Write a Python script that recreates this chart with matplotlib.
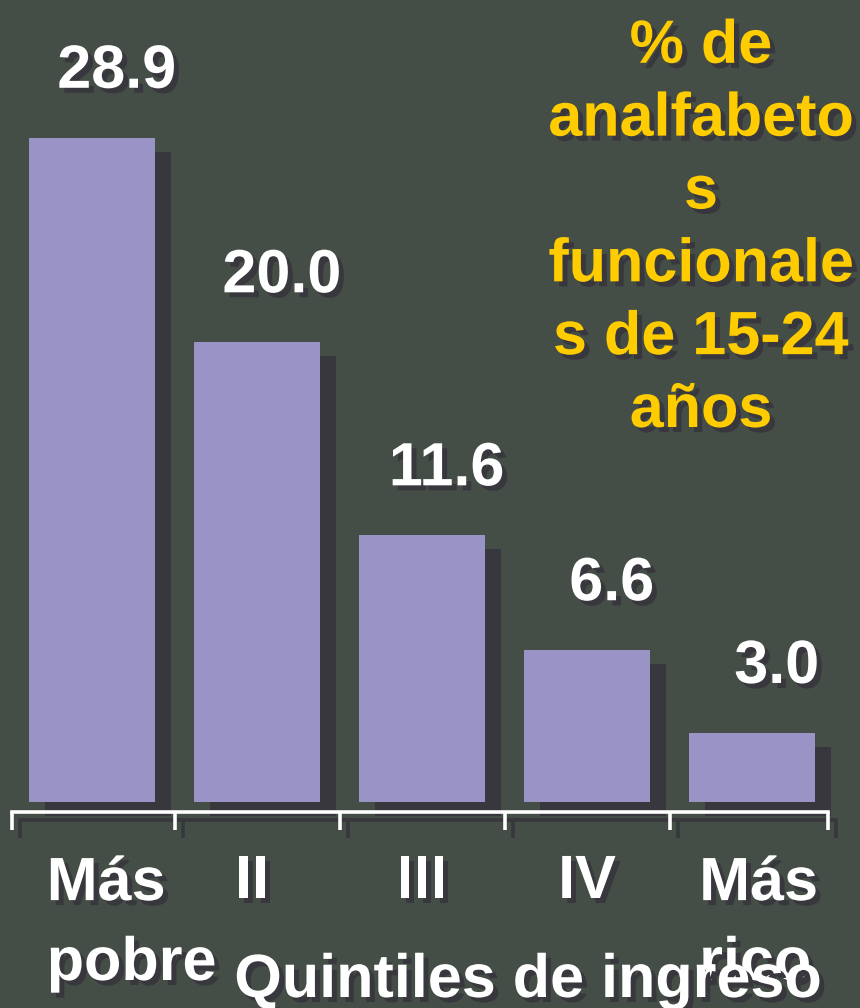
import matplotlib
matplotlib.use("Agg")
import matplotlib.pyplot as plt
import matplotlib.patheffects as pe
import matplotlib.transforms as mtransforms

# ---- data ----
categories = ["Más\npobre", "II", "III", "IV", "Más\nrico"]
values = [28.9, 20.0, 11.6, 6.6, 3.0]
value_labels = ["28.9", "20.0", "11.6", "6.6", "3.0"]
title = "% de\nanalfabeto\ns\nfuncionale\ns de 15-24\naños"
xlabel = "Quintiles de ingreso"

# ---- style ----
BG = "#454E46"
BAR = "#9A94C6"
SHADOW = "#38373D"
YELLOW = "#FFCC00"
FONT = "Liberation Sans"
FS = 44

plt.rcParams["font.family"] = [FONT, "DejaVu Sans"]

fig = plt.figure(figsize=(8.6, 10.08), dpi=100, facecolor=BG)
ax = fig.add_axes([0, 168 / 1008, 1, 840 / 1008])
ax.set_facecolor(BG)
ax.set_xlim(-0.5576, 4.6545)
ax.set_ylim(-1.654, 34.90)
ax.axis("off")

txt_shadow = [pe.withSimplePatchShadow(offset=(3.6, -3.6), shadow_rgbFace=SHADOW, alpha=1.0)]
bar_shadow = [pe.SimplePatchShadow(offset=(11.5, -10.0), shadow_rgbFace=SHADOW, alpha=1.0), pe.Normal()]
line_shadow = [pe.SimpleLineShadow(offset=(5.8, -5.8), shadow_color=SHADOW, alpha=1.0), pe.Normal()]

x = list(range(len(values)))
bars = ax.bar(x, values, width=0.758, color=BAR, zorder=2)
for b in bars:
    b.set_path_effects(bar_shadow)

# value labels
for xi, v, lab in zip(x, values, value_labels):
    ax.text(xi + 0.15, v + 2.18, lab, ha="center", va="baseline", color="white",
            fontsize=FS, fontweight="bold", path_effects=txt_shadow, zorder=5)

# bracket axis
y_line = -0.435
y_tick = -1.218
left_end, right_end = -0.485, 4.46
bounds = [left_end] + [xi + 0.5 for xi in x[:-1]] + [right_end]
ax.plot([left_end, right_end], [y_line, y_line], color="white", lw=2.6,
        solid_capstyle="projecting", path_effects=line_shadow, clip_on=False, zorder=4)
for bx in bounds:
    ax.plot([bx, bx], [y_line, y_tick], color="white", lw=2.6,
            solid_capstyle="butt", path_effects=line_shadow, clip_on=False, zorder=4)

# category labels (va='baseline' refers to the last line)
trans = mtransforms.blended_transform_factory(ax.transData, fig.transFigure)
offsets = [0.24, -0.03, 0.0, 0.0, 0.04]
for xi, cat, off in zip(x, categories, offsets):
    nl = cat.count("\n")
    base_px = 898 + 82 * nl
    ax.text(xi + off, (1008 - base_px) / 1008, cat, transform=trans, ha="center",
            va="baseline", multialignment="left", linespacing=1.52, color="white",
            fontsize=FS, fontweight="bold", path_effects=txt_shadow, clip_on=False, zorder=5)

# x-axis title
fig.text(528 / 860, 11 / 1008, xlabel, ha="center", va="baseline", color="white",
         fontsize=FS, fontweight="bold", path_effects=txt_shadow, zorder=10)

# chart title (baseline of last line)
fig.text(701 / 860, (1008 - 427) / 1008, title, ha="center", va="baseline",
         multialignment="center", linespacing=1.36, color=YELLOW, fontsize=FS,
         fontweight="bold", path_effects=txt_shadow, zorder=10)

fig.savefig("out.png", dpi=100, facecolor=BG)
